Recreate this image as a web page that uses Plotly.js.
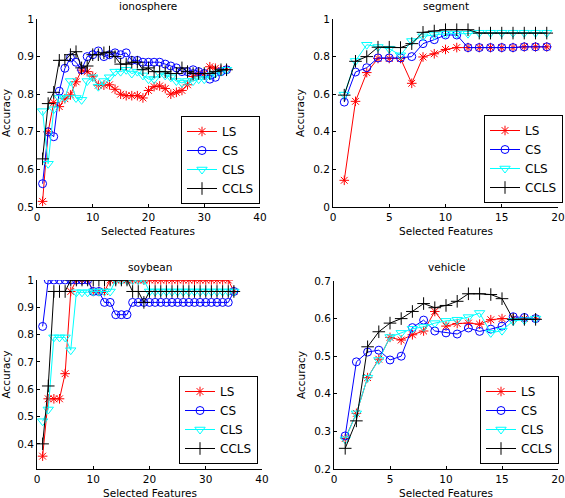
<!DOCTYPE html>
<html>
<head>
<meta charset="utf-8">
<script src="https://cdn.plot.ly/plotly-3.0.1.min.js"></script>
<style>html,body{margin:0;padding:0;background:#fff}#chart{width:565px;height:498px}</style>
</head>
<body>
<div id="chart"></div>
<script>
// ---------- data ----------
const seriesNames = ["LS", "CS", "CLS", "CCLS"];
const panelTitles = ["ionosphere", "segment", "soybean", "vehicle"];
const xLabel = "Selected Features";
const yLabel = "Accuracy";

const ionoLS   = [0.515,0.70,0.778,0.767,0.788,0.798,0.833,0.864,0.860,0.848,0.824,0.824,0.825,0.813,0.800,0.796,0.796,0.796,0.790,0.810,0.820,0.822,0.815,0.800,0.805,0.810,0.825,0.847,0.854,0.854,0.873,0.869,0.864,0.866];
const ionoCS   = [0.562,0.700,0.687,0.808,0.869,0.897,0.885,0.865,0.900,0.905,0.915,0.900,0.905,0.910,0.905,0.910,0.890,0.890,0.885,0.885,0.885,0.885,0.880,0.875,0.870,0.860,0.860,0.865,0.860,0.855,0.840,0.845,0.860,0.865];
const ionoCLS  = [0.755,0.615,0.760,0.790,0.790,0.835,0.790,0.785,0.835,0.845,0.820,0.835,0.845,0.860,0.860,0.865,0.855,0.860,0.850,0.840,0.840,0.855,0.850,0.845,0.835,0.830,0.835,0.835,0.840,0.840,0.850,0.855,0.860,0.865];
const ionoCCLS = [0.628,0.775,0.805,0.890,0.890,0.905,0.913,0.870,0.875,0.905,0.905,0.910,0.912,0.900,0.880,0.880,0.885,0.885,0.865,0.870,0.860,0.860,0.860,0.855,0.855,0.870,0.860,0.855,0.855,0.855,0.855,0.860,0.865,0.865];

const segLS   = [0.142,0.562,0.715,0.790,0.790,0.790,0.658,0.798,0.815,0.838,0.848,0.848,0.848,0.848,0.848,0.848,0.852,0.852,0.852];
const segCS   = [0.558,0.718,0.741,0.793,0.793,0.793,0.800,0.869,0.890,0.915,0.915,0.848,0.848,0.848,0.848,0.848,0.852,0.852,0.852];
const segCLS  = [0.598,0.777,0.863,0.851,0.842,0.807,0.883,0.908,0.915,0.922,0.922,0.922,0.927,0.927,0.927,0.927,0.927,0.927,0.927];
const segCCLS = [0.595,0.775,0.800,0.850,0.850,0.848,0.869,0.929,0.936,0.943,0.943,0.943,0.925,0.925,0.925,0.925,0.925,0.925,0.925];

const soyLS   = [0.355,0.565,0.565,0.565,0.657,0.958,1,1,1,0.958,0.958,0.958,1,1,1,1,1,1,1,1,1,1,1,1,1,1,1,1,1,1,1,1,1,1,0.958];
const soyCS   = [0.830,1,1,1,1,1,1,1,1,0.958,0.958,0.918,0.918,0.873,0.873,0.873,0.918,0.918,0.918,0.918,0.918,0.918,0.918,0.918,0.918,0.918,0.918,0.918,0.918,0.918,0.918,0.918,0.918,0.918,0.958];
const soyCLS  = [0.483,0.526,0.790,0.790,0.790,0.743,0.955,0.955,0.955,0.958,0.958,0.958,0.958,1,1,1,1,1,1,0.958,0.958,0.958,0.958,0.958,0.958,0.958,0.958,0.958,0.958,0.958,0.958,0.958,0.958,0.958,0.958];
const soyCCLS = [0.400,0.612,0.958,0.958,0.958,1,1,1,1,1,1,1,1,1,1,1,0.958,0.958,0.918,0.958,0.958,0.958,0.958,0.958,0.958,0.958,0.958,0.958,0.958,0.958,0.958,0.958,0.958,0.958,0.958];

const vehLS   = [0.281,0.348,0.443,0.492,0.550,0.543,0.557,0.567,0.619,0.580,0.587,0.588,0.585,0.597,0.600,0.600,0.600,0.600];
const vehCS   = [0.288,0.485,0.511,0.516,0.490,0.500,0.576,0.596,0.567,0.562,0.559,0.575,0.566,0.572,0.580,0.605,0.603,0.600];
const vehCLS  = [0.279,0.348,0.443,0.490,0.551,0.562,0.573,0.578,0.588,0.594,0.597,0.604,0.615,0.562,0.568,0.594,0.596,0.600];
const vehCCLS = [0.255,0.328,0.525,0.565,0.588,0.600,0.619,0.640,0.629,0.635,0.646,0.666,0.666,0.664,0.653,0.598,0.598,0.598];

const ionoX = Array.from({length: ionoLS.length}, (_, i) => i + 1);
const segX  = Array.from({length: segLS.length}, (_, i) => i + 1);
const soyX  = Array.from({length: soyLS.length}, (_, i) => i + 1);
const vehX  = Array.from({length: vehLS.length}, (_, i) => i + 1);

// ---------- styles ----------
const colors  = ["#ff0000", "#0000ff", "#00ffff", "#000000"];
const symbols = ["asterisk-open", "circle-open", "triangle-down-open", "cross-thin-open"];
const msizes  = [8, 8, 9, 9];

const panels = [
  {x: ionoX, ys: [ionoLS, ionoCS, ionoCLS, ionoCCLS], xa: "x",  ya: "y",  lg: "legend"},
  {x: segX,  ys: [segLS, segCS, segCLS, segCCLS],     xa: "x2", ya: "y2", lg: "legend2"},
  {x: soyX,  ys: [soyLS, soyCS, soyCLS, soyCCLS],     xa: "x3", ya: "y3", lg: "legend3"},
  {x: vehX,  ys: [vehLS, vehCS, vehCLS, vehCCLS],     xa: "x4", ya: "y4", lg: "legend4"}
];

const traces = [];
panels.forEach(p => {
  p.ys.forEach((ys, k) => {
    traces.push({
      type: "scatter", mode: "lines+markers",
      x: p.x, y: ys, name: seriesNames[k],
      xaxis: p.xa, yaxis: p.ya, legend: p.lg, showlegend: true,
      line: {color: colors[k], width: 1},
      marker: {symbol: symbols[k], size: msizes[k], color: colors[k], line: {color: colors[k], width: 1}}
    });
  });
});

const W = 565, H = 498;
const px = v => v / W;
const py = v => 1 - v / H;
const FONT = "DejaVu Sans, Liberation Sans, Arial, sans-serif";
const FS = 10.5;

function xaxisCfg(l, r, range, dtick) {
  return {
    domain: [px(l), px(r)], range: range, dtick: dtick, tick0: 0,
    showline: true, linecolor: "#000", linewidth: 1, mirror: false,
    ticks: "inside", ticklen: 3, tickcolor: "#000", showgrid: false, zeroline: false,
    tickfont: {family: FONT, size: FS, color: "#000"},
    automargin: false
  };
}
function yaxisCfg(t, b, range, tickvals) {
  return {
    domain: [py(b), py(t)], range: range, tickvals: tickvals,
    showline: true, linecolor: "#000", linewidth: 1, mirror: false,
    ticks: "inside", ticklen: 3, tickcolor: "#000", showgrid: false, zeroline: false,
    tickfont: {family: FONT, size: FS, color: "#000"},
    title: {text: yLabel, font: {family: FONT, size: FS, color: "#000"}, standoff: 6},
    automargin: false
  };
}
function legendCfg(right, bottom) {
  return {
    x: px(right), y: py(bottom), xanchor: "right", yanchor: "bottom",
    bgcolor: "#fff", bordercolor: "#000", borderwidth: 1,
    font: {family: FONT, size: 12, color: "#000"},
    itemwidth: 30, tracegroupgap: 0
  };
}

const titlePos  = [[148, 6], [446, 6], [150, 267], [446, 267]];
const xTitlePos = [[148, 231], [446, 231], [150, 493], [446, 493]];

const annotations = [];
panelTitles.forEach((t, i) => {
  annotations.push({
    text: t, xref: "paper", yref: "paper",
    x: px(titlePos[i][0]), y: py(titlePos[i][1]),
    xanchor: "center", yanchor: "middle", showarrow: false, borderpad: 0,
    font: {family: FONT, size: FS, color: "#000"}
  });
  annotations.push({
    text: xLabel, xref: "paper", yref: "paper",
    x: px(xTitlePos[i][0]), y: py(xTitlePos[i][1]),
    xanchor: "center", yanchor: "middle", showarrow: false, borderpad: 0,
    font: {family: FONT, size: FS, color: "#000"}
  });
});

const layout = {
  width: W, height: H,
  margin: {l: 0, r: 0, t: 0, b: 0},
  paper_bgcolor: "#fff", plot_bgcolor: "#fff",
  font: {family: FONT, size: FS, color: "#000"},
  xaxis:  xaxisCfg(37, 260, [0, 40], 10),
  yaxis:  yaxisCfg(19, 207, [0.5, 1], [0.5, 0.6, 0.7, 0.8, 0.9, 1]),
  xaxis2: xaxisCfg(333, 558, [0, 20], 5),
  yaxis2: yaxisCfg(19, 207, [0, 1], [0, 0.2, 0.4, 0.6, 0.8, 1]),
  xaxis3: xaxisCfg(37, 262, [0, 40], 10),
  yaxis3: yaxisCfg(280, 469, [0.308, 1], [0.4, 0.5, 0.6, 0.7, 0.8, 0.9, 1]),
  xaxis4: xaxisCfg(334, 558, [0, 20], 5),
  yaxis4: yaxisCfg(281, 469, [0.2, 0.7], [0.2, 0.3, 0.4, 0.5, 0.6, 0.7]),
  legend:  legendCfg(260, 204),
  legend2: legendCfg(563, 203),
  legend3: legendCfg(258, 464),
  legend4: legendCfg(559, 464),
  annotations: annotations,
  showlegend: true
};

layout.xaxis.anchor = "y";  layout.yaxis.anchor = "x";
layout.xaxis2.anchor = "y2"; layout.yaxis2.anchor = "x2";
layout.xaxis3.anchor = "y3"; layout.yaxis3.anchor = "x3";
layout.xaxis4.anchor = "y4"; layout.yaxis4.anchor = "x4";

Plotly.newPlot("chart", traces, layout, {displayModeBar: false, staticPlot: true});
</script>
</body>
</html>
